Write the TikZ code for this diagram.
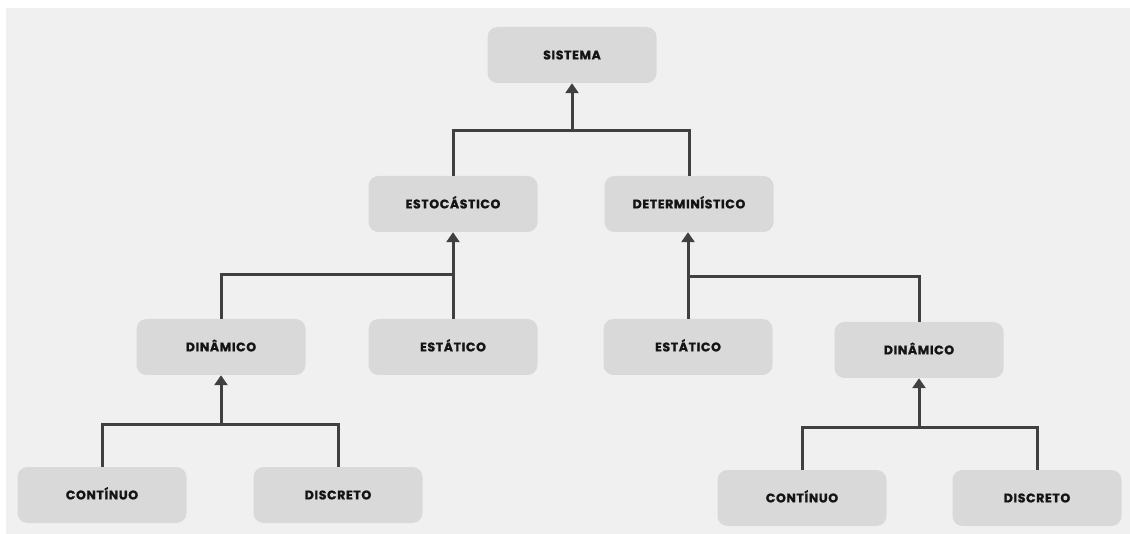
\documentclass[tikz,border=0pt]{standalone}
\usepackage{fontspec}
\usetikzlibrary{arrows.meta}
\newfontfamily\boxfont[LetterSpace=5, BoldFeatures={FakeBold=1.3}]{Poppins}
\definecolor{panel}{HTML}{F0F0F0}
\definecolor{boxfill}{HTML}{D9D9D9}
\definecolor{wire}{HTML}{404040}
\definecolor{ink}{HTML}{141414}
\begin{document}
\begin{tikzpicture}[x=1pt,y=-1pt,
  box/.style={rectangle, rounded corners=10pt, fill=boxfill, inner sep=0pt,
    minimum width=169pt, minimum height=56pt, text=ink,
    text height=8.8pt, text depth=0pt,
    font=\boxfont\bfseries\fontsize{12.5}{13}\selectfont},
  wireline/.style={draw=wire, line width=3pt, line join=miter},
  wirearrow/.style={wireline, -{Triangle[width=13pt,length=10pt]}}]
  % canvas
  \useasboundingbox (0,0) rectangle (1130,534);
  \fill[white] (0,0) rectangle (1130,534);
  \fill[panel] (6,8) rectangle (1130,534);

  % boxes
  \node[box] (sis)    at (572,55)  {SISTEMA};
  \node[box] (estoc)  at (453,204) {ESTOCÁSTICO};
  \node[box] (determ) at (689,204) {DETERMINÍSTICO};
  \node[box] (dinL)   at (221,347) {DINÂMICO};
  \node[box] (estL)   at (453,347) {ESTÁTICO};
  \node[box] (estR)   at (688,347) {ESTÁTICO};
  \node[box] (dinR)   at (919,350) {DINÂMICO};
  \node[box] (contL)  at (102,495) {CONTÍNUO};
  \node[box] (discL)  at (338,495) {DISCRETO};
  \node[box] (contR)  at (802,498) {CONTÍNUO};
  \node[box] (discR)  at (1037,498) {DISCRETO};

  % junction points of the buses
  \coordinate (j1) at (572,131);
  \coordinate (j2) at (453,275);
  \coordinate (j3) at (688,277);
  \coordinate (j4) at (221,425);
  \coordinate (j5) at (919,428);

  % connectors
  \draw[wireline] (estoc.north) |- (j1) -| (determ.north);
  \draw[wirearrow] (j1) -- (sis.south);

  \draw[wireline] (dinL.north) |- (j2);
  \draw[wirearrow] (estL.north) -- (estoc.south);

  \draw[wireline] (dinR.north) |- (j3);
  \draw[wirearrow] (estR.north) -- (estR.north |- determ.south);

  \draw[wireline] (contL.north) |- (j4) -| (discL.north);
  \draw[wirearrow] (j4) -- (dinL.south);

  \draw[wireline] (contR.north) |- (j5) -| (discR.north);
  \draw[wirearrow] (j5) -- (dinR.south);
\end{tikzpicture}
\end{document}
